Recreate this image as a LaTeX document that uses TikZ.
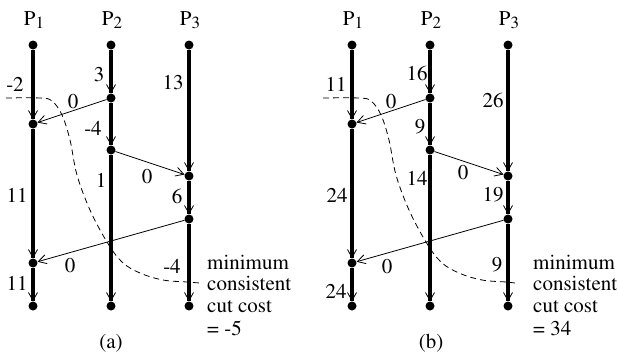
\documentclass[tikz,border=0pt]{standalone}
\usepackage[T1]{fontenc}
\usepackage{mathptmx}
\usetikzlibrary{arrows.meta}
\begin{document}
\begin{tikzpicture}[x=1pt,y=-1pt,
  dot/.style={circle,fill=black,inner sep=0pt,minimum size=9pt},
  proc/.style={line width=3.6pt},
  arr/.style={line width=0.8pt,-{Straight Barb[length=8pt,width=9pt,line width=0.8pt]}},
  lbl/.style={inner sep=0pt,font=\fontsize{21}{22}\selectfont},
  cut/.style={line width=0.8pt,dash pattern=on 6pt off 4pt}]
\useasboundingbox (0,0) rectangle (618,360);
\newcommand\Pname[1]{P\raisebox{-3pt}{\fontsize{17}{17}\selectfont #1}}
% ---------- panel (a) ----------
\node[lbl,anchor=base] (aP1) at (34,25) {\Pname{1}};
\node[lbl,anchor=base] (aP2) at (112,25) {\Pname{2}};
\node[lbl,anchor=base] (aP3) at (190,25) {\Pname{3}};
\node[dot] (a10) at (33,45) {};
\node[dot] (a11) at (33,124) {};
\node[dot] (a12) at (33,263) {};
\node[dot] (a13) at (33,306) {};
\node[dot] (a20) at (111,45) {};
\node[dot] (a21) at (111,98) {};
\node[dot] (a22) at (111,150) {};
\node[dot] (a23) at (111,306) {};
\node[dot] (a30) at (189,45) {};
\node[dot] (a31) at (189,176) {};
\node[dot] (a32) at (189,219) {};
\node[dot] (a33) at (189,306) {};
\foreach \p in {1,2,3}{
  \draw[proc] (a\p0) -- (a\p1) -- (a\p2) -- (a\p3);
  \draw[arr] (a\p0) -- (a\p1);
  \draw[arr] (a\p1) -- (a\p2);
  \draw[arr] (a\p2) -- (a\p3);
}
\draw[arr] (a21) -- (a11);
\draw[arr] (a22) -- (a31);
\draw[arr] (a32) -- (a12);
\draw[cut] plot[smooth,tension=0.6] coordinates {(6,98) (40,98) (52,101) (62,115) (70,140) (77,175) (90,210) (107,242) (122,262) (140,273) (163,280) (187,282) (200,283)};
\node[lbl] (la1) at (15,84) {-2};
\node[lbl] (la2) at (17,195) {11};
\node[lbl] (la3) at (17,283) {11};
\node[lbl] (la4) at (99,74) {3};
\node[lbl] (la5) at (93,128) {-4};
\node[lbl] (la6) at (101,180) {1};
\node[lbl] (la7) at (173,82) {13};
\node[lbl] (la8) at (177,196) {6};
\node[lbl] (la9) at (172,266) {-4};
\node[lbl] (lam1) at (73,101) {0};
\node[lbl] (lam2) at (147,176) {0};
\node[lbl] (lam3) at (70,265) {0};
\node[lbl,anchor=base west] (ta1) at (207,269) {minimum};
\node[lbl,anchor=base west] (ta2) at (207,290) {consistent};
\node[lbl,anchor=base west] (ta3) at (207,312) {cut cost};
\node[lbl,anchor=base west] (ta4) at (207,335) {= -5};
\node[lbl] (capa) at (111,343) {(a)};
% ---------- panel (b) ----------
\node[lbl,anchor=base] (bP1) at (353,25) {\Pname{1}};
\node[lbl,anchor=base] (bP2) at (431,25) {\Pname{2}};
\node[lbl,anchor=base] (bP3) at (509,25) {\Pname{3}};
\node[dot] (b10) at (352,45) {};
\node[dot] (b11) at (352,124) {};
\node[dot] (b12) at (352,263) {};
\node[dot] (b13) at (352,306) {};
\node[dot] (b20) at (430,45) {};
\node[dot] (b21) at (430,98) {};
\node[dot] (b22) at (430,150) {};
\node[dot] (b23) at (430,306) {};
\node[dot] (b30) at (508,45) {};
\node[dot] (b31) at (508,176) {};
\node[dot] (b32) at (508,219) {};
\node[dot] (b33) at (508,306) {};
\foreach \p in {1,2,3}{
  \draw[proc] (b\p0) -- (b\p1) -- (b\p2) -- (b\p3);
  \draw[arr] (b\p0) -- (b\p1);
  \draw[arr] (b\p1) -- (b\p2);
  \draw[arr] (b\p2) -- (b\p3);
}
\draw[arr] (b21) -- (b11);
\draw[arr] (b22) -- (b31);
\draw[arr] (b32) -- (b12);
\draw[cut] plot[smooth,tension=0.6] coordinates {(323,98) (359,98) (371,101) (381,115) (389,140) (396,175) (409,210) (426,242) (441,262) (459,273) (482,280) (506,282) (515,283)};
\node[lbl] (lb1) at (336,84) {11};
\node[lbl] (lb2) at (337,195) {24};
\node[lbl] (lb3) at (336,291) {24};
\node[lbl] (lb4) at (417,73) {16};
\node[lbl] (lb5) at (420,127) {9};
\node[lbl] (lb6) at (417,178) {14};
\node[lbl] (lb7) at (493,100) {26};
\node[lbl] (lb8) at (493,195) {19};
\node[lbl] (lb9) at (497,265) {9};
\node[lbl] (lbm1) at (391,101) {0};
\node[lbl] (lbm2) at (463,172) {0};
\node[lbl] (lbm3) at (387,266) {0};
\node[lbl,anchor=base west] (tb1) at (533,269) {minimum};
\node[lbl,anchor=base west] (tb2) at (533,290) {consistent};
\node[lbl,anchor=base west] (tb3) at (533,312) {cut cost};
\node[lbl,anchor=base west] (tb4) at (533,335) {= 34};
\node[lbl] (capb) at (431,343) {(b)};
\end{tikzpicture}
\end{document}
